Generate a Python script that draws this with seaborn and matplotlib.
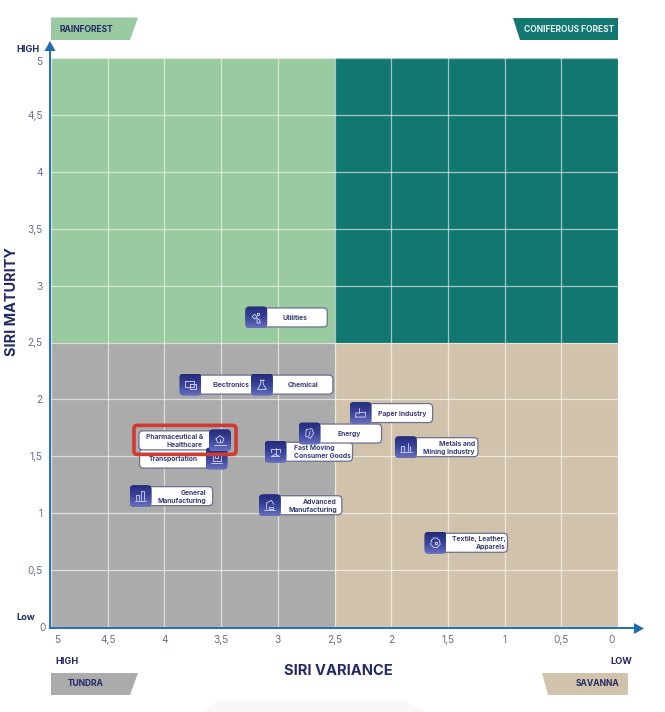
import numpy as np
import pandas as pd
import matplotlib
matplotlib.use('Agg')
import matplotlib.pyplot as plt
import seaborn as sns
from matplotlib.patches import FancyBboxPatch, Polygon
from matplotlib.path import Path
from matplotlib.transforms import Affine2D, ScaledTranslation

# values
sectors = ['Utilities', 'Electronics', 'Chemical', 'Transportation', 'Pharmaceutical &\nHealthcare',
           'General\nManufacturing', 'Fast Moving\nConsumer Goods', 'Energy', 'Advanced\nManufacturing',
           'Paper Industry', 'Metals and\nMining Industry', 'Textile, Leather,\nApparels']
variance = [3.19, 3.77, 3.14, 3.54, 3.51, 4.21, 3.02, 2.72, 3.07, 2.27, 1.87, 1.61]
maturity = [2.72, 2.13, 2.13, 1.48, 1.64, 1.15, 1.54, 1.70, 1.07, 1.88, 1.58, 0.74]
tick_values = [0, 0.5, 1, 1.5, 2, 2.5, 3, 3.5, 4, 4.5, 5]
tick_labels = ['0', '0,5', '1', '1,5', '2', '2,5', '3', '3,5', '4', '4,5', '5']

# card layout in pixels from the icon centre: left, right, text x, alignment
cards = [(0, 71, 39, 'center'), (0, 70, 40, 'center'), (0, 71, 41, 'center'), (-77, 0, -43, 'center'),
         (-81, 0, -17, 'right'), (0, 72, 66, 'right'), (0, 77, 18, 'left'), (0, 72, 40, 'center'),
         (0, 72, 67, 'right'), (0, 72, 42, 'center'), (0, 72, 69, 'right'), (0, 72, 70, 'right')]

# small line glyphs, unit box
glyphs = [
    [[(-.5, .1), (-.2, .4), (.1, .1), (-.2, -.2), (-.5, .1)], [(.1, -.1), (.4, -.3), (.5, -.7), (.1, -.7), (.1, -.1)], [(.1, .6), (.4, .6), (.4, .3), (.1, .3), (.1, .6)]],
    [[(-.7, .5), (.4, .5), (.4, -.3), (-.7, -.3), (-.7, .5)], [(-.1, .1), (.7, .1), (.7, -.5), (-.1, -.5), (-.1, .1)]],
    [[(-.15, .6), (-.15, .1), (-.55, -.6), (.55, -.6), (.15, .1), (.15, .6)], [(-.3, .6), (.3, .6)]],
    [[(-.5, .4), (-.5, -.3), (.5, -.3), (.5, .4)], [(-.2, .5), (-.2, .1), (.2, .1), (.2, .5)], [(-.7, -.6), (.7, -.6)]],
    [[(-.5, .2), (0, .6), (.5, .2), (.3, -.3), (-.3, -.3), (-.5, .2)], [(-.7, -.6), (.7, -.6)], [(0, .2), (0, -.2)]],
    [[(-.6, -.5), (-.6, .1), (-.2, .1), (-.2, -.5)], [(.1, -.5), (.1, .6), (.4, .6), (.4, -.5)], [(-.7, -.65), (.7, -.65)]],
    [[(-.6, .4), (.6, .4)], [(0, .5), (0, -.4)], [(-.6, .4), (-.6, 0)], [(.6, .4), (.6, 0)], [(-.5, -.6), (.5, -.6), (0, -.3), (-.5, -.6)]],
    [[(-.4, .5), (.3, .6), (.5, 0), (.1, -.6), (-.5, -.3), (-.4, .5)], [(.1, .3), (-.1, -.3)]],
    [[(-.4, -.5), (-.4, .3), (.2, .6), (.5, .1)], [(-.7, -.6), (.7, -.6)], [(-.1, -.5), (.4, -.5), (.4, -.2), (-.1, -.2), (-.1, -.5)]],
    [[(-.6, -.5), (-.6, 0), (.6, .1), (.6, -.5), (-.6, -.5)], [(-.2, 0), (-.2, .6)]],
    [[(-.6, -.5), (-.6, .2), (-.2, .2), (-.2, -.5)], [(.2, -.5), (.2, .5)], [(.5, -.5), (.5, .2)], [(-.7, -.55), (.7, -.55)]],
    [[(-.5, .3), (-.2, .6), (.2, .6), (.5, .3), (.6, -.2), (.2, -.6), (-.2, -.6), (-.6, -.2), (-.5, .3)], [(-.1, .1), (.2, .1), (.2, -.2), (-.1, -.2), (-.1, .1)]],
]

NAVY = '#232a66'
TICK = '#6b6c8e'
BLUE = '#1f6cb4'
W, H = 665, 712

sns.set_theme(style='white')
plt.rcParams['font.family'] = ['Inter', 'DejaVu Sans']

data = pd.DataFrame({'sector': sectors, 'variance': variance, 'maturity': maturity})

fig = plt.figure(figsize=(6.65, 7.12), dpi=100, facecolor='white')
ax = fig.add_axes([51 / W, 1 - 627 / H, 567 / W, 569 / H])
ax.set_xlim(5, 0)
ax.set_ylim(0, 5)
px = Affine2D().scale(1 / W, -1 / H).translate(0, 1) + fig.transFigure

# faint shape behind the bottom of the page
fig.add_artist(Polygon([(200, 712), (220, 700), (402, 700), (425, 712)], closed=True, transform=px, fc='#f8f8f9', ec='none'))

# quadrants
ax.fill_between([5, 2.5], 2.5, 5, color='#9aca9f', lw=0, zorder=0)
ax.fill_between([2.5, 0], 2.5, 5, color='#117770', lw=0, zorder=0)
ax.fill_between([5, 2.5], 0, 2.5, color='#ababab', lw=0, zorder=0)
ax.fill_between([2.5, 0], 0, 2.5, color='#d1c2ab', lw=0, zorder=0)

ax.set_xticks(tick_values)
ax.set_yticks(tick_values)
ax.set_xticklabels(tick_labels)
ax.set_yticklabels(tick_labels)
ax.grid(True, color='white', alpha=0.6, lw=0.9)
ax.set_axisbelow(True)
ax.tick_params(length=0, labelsize=7.3, labelcolor=TICK, pad=6)
ax.tick_params(axis='y', pad=6)
sns.despine(ax=ax, left=True, bottom=True, top=True, right=True)

# the end labels sit a bit inside the plot
for lab, val in zip(ax.get_xticklabels(), tick_values):
    if val == 5:
        lab.set_transform(lab.get_transform() + ScaledTranslation(6 / 100, 0, fig.dpi_scale_trans))
    if val == 0:
        lab.set_transform(lab.get_transform() + ScaledTranslation(-6 / 100, 0, fig.dpi_scale_trans))
for lab, val in zip(ax.get_yticklabels(), tick_values):
    if val == 0:
        lab.set_transform(lab.get_transform() + ScaledTranslation(3 / 100, 0, fig.dpi_scale_trans))
    if val == 5:
        lab.set_transform(lab.get_transform() + ScaledTranslation(0, -3 / 100, fig.dpi_scale_trans))

ux = 5 / 567
uy = 5 / 569


def rounded(x0, x1, y0, y1, **kw):
    # x0/x1 are pixel edges already turned into data values
    return FancyBboxPatch((min(x0, x1) + 0.03, y0 + 0.03), abs(x1 - x0) - 0.06, y1 - y0 - 0.06,
                          boxstyle='round,pad=0.03,rounding_size=0.035', **kw)


# cards first, icons over them
for (name, vx, vy, c) in zip(sectors, variance, maturity, cards):
    left, right, tx, ha = c
    ax.add_patch(rounded(vx - left * ux, vx - right * ux, vy - 9.5 * uy, vy + 9.5 * uy,
                         fc='white', ec='#6d6f8f', lw=0.9, zorder=3))
    ax.text(vx - tx * ux, vy - 0.5 * uy, name, ha=ha, va='center', multialignment=ha,
            fontsize=4.9, fontweight='bold', color='#3a3e78', linespacing=1.38, zorder=3.5)

# icon bases through seaborn
box = FancyBboxPatch((-1, -1), 2, 2, boxstyle='round,pad=0,rounding_size=0.45').get_path()
sns.scatterplot(data=data, x='variance', y='maturity', marker=Path(box.vertices, box.codes), s=230,
                color='#2c3585', edgecolor='none', ax=ax, zorder=4, legend=False, clip_on=False)

# gradient and glyph on each icon
grad = np.linspace(0, 1, 32).reshape(-1, 1)
cmap = matplotlib.colors.LinearSegmentedColormap.from_list('ic', ['#232c78', '#39439a', '#6670bd'])
for vx, vy, g in zip(variance, maturity, glyphs):
    x0, x1, y0, y1 = vx + 11 * ux, vx - 11 * ux, vy - 11 * uy, vy + 11 * uy
    im = ax.imshow(grad, extent=(x0, x1, y0, y1), origin='upper', cmap=cmap, aspect='auto', zorder=4.1)
    clip = rounded(x1, x0, y0, y1, transform=ax.transData, fc='none', ec='none')
    ax.add_patch(clip)
    im.set_clip_path(clip)
    for line in g:
        pts = np.array(line)
        ax.plot(vx - pts[:, 0] * 8 * ux, vy + pts[:, 1] * 8 * uy, color='#d5d9f2', lw=0.6, zorder=4.2)

ax.set_xlim(5, 0)
ax.set_ylim(0, 5)
ax.set_xlabel('')
ax.set_ylabel('')

# red highlight round the pharma entry
i = [n.startswith('Pharma') for n in sectors].index(True)
ax.add_patch(FancyBboxPatch((variance[i] - 16 * ux, maturity[i] - 14 * uy), 102 * ux, 29 * uy,
                            boxstyle='round,pad=0,rounding_size=0.03', fc='none', ec='#cf3a32', lw=2.6, zorder=5))

# axis arrows
fig.add_artist(plt.Line2D([50, 50], [48, 628], transform=px, color=BLUE, lw=1.4))
fig.add_artist(plt.Line2D([50, 636], [628, 628], transform=px, color=BLUE, lw=1.4))
fig.add_artist(Polygon([(50, 41), (44.5, 51), (55.5, 51)], closed=True, transform=px, fc=BLUE, ec='none'))
fig.add_artist(Polygon([(644, 628.5), (634, 623), (634, 634)], closed=True, transform=px, fc=BLUE, ec='none'))

# quadrant tags
tags = [('RAINFOREST', [(51, 17.5), (138, 17.5), (130, 40), (51, 40)], '#9aca9f', NAVY, 86.5, 29),
        ('CONIFEROUS FOREST', [(513, 17.5), (618, 17.5), (618, 40), (520, 40)], '#117770', '#e8f2f0', 569, 29),
        ('TUNDRA', [(51, 673), (138, 673), (130, 695), (51, 695)], '#ababab', NAVY, 85.5, 684),
        ('SAVANNA', [(542, 673), (628, 673), (628, 695), (548, 695)], '#d1c2ab', NAVY, 597, 684)]
for name, pts, fc, tc, tx, ty in tags:
    fig.add_artist(Polygon(pts, closed=True, transform=px, fc=fc, ec='none'))
    fig.text(tx, ty, name, transform=px, ha='center', va='center', fontsize=6.1, fontweight='bold', color=tc)

# axis words
fig.text(28, 50, 'HIGH', transform=px, ha='center', va='center', fontsize=6.6, fontweight='bold', color=NAVY)
fig.text(26, 617, 'Low', transform=px, ha='center', va='center', fontsize=6.6, fontweight='bold', color=NAVY)
fig.text(67, 662, 'HIGH', transform=px, ha='center', va='center', fontsize=6.6, fontweight='bold', color=NAVY)
fig.text(621, 662, 'LOW', transform=px, ha='center', va='center', fontsize=6.6, fontweight='bold', color=NAVY)
fig.text(338, 671, 'SIRI VARIANCE', transform=px, ha='center', va='center', fontsize=10.6, fontweight='bold', color=NAVY)
fig.text(12, 302, 'SIRI MATURITY', transform=px, ha='center', va='center', rotation=90, fontsize=10.4, fontweight='bold', color=NAVY)

fig.savefig('out.png', dpi=100)
